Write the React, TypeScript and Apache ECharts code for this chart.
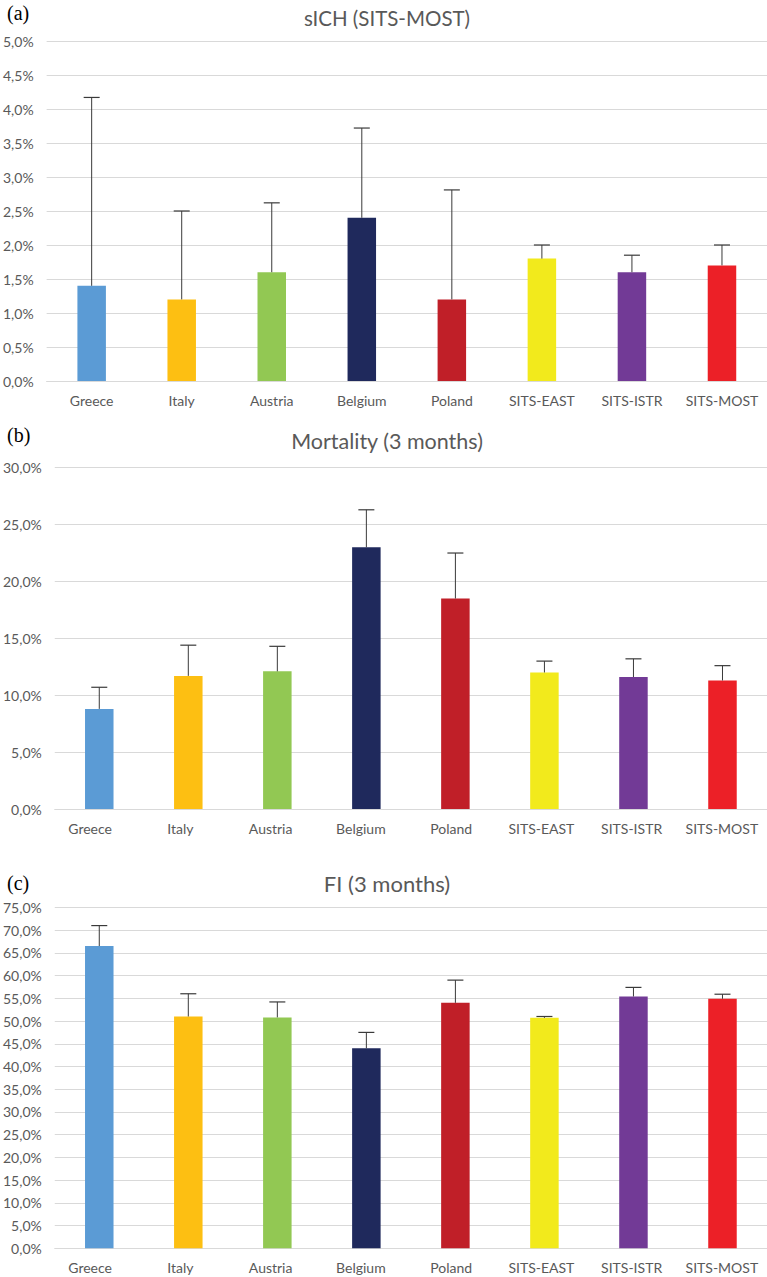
import React, { useEffect, useRef } from "react";
import * as echarts from "echarts";

// ---------- data ----------
const categories = ["Greece", "Italy", "Austria", "Belgium", "Poland", "SITS-EAST", "SITS-ISTR", "SITS-MOST"];
const barColors = ["#5B9BD5", "#FDBF12", "#92C853", "#1F295C", "#C01F28", "#F2EA1C", "#723A96", "#EC2027"];

const panelLetters = ["(a)", "(b)", "(c)"];
const panelTitles = ["sICH (SITS-MOST)", "Mortality (3 months)", "FI (3 months)"];

const sichValues = [1.4, 1.2, 1.6, 2.4, 1.2, 1.8, 1.6, 1.7];
const sichUpper = [4.17, 2.5, 2.62, 3.72, 2.81, 2.0, 1.85, 2.0];

const mortValues = [8.8, 11.7, 12.1, 23.0, 18.5, 12.0, 11.6, 11.3];
const mortUpper = [10.7, 14.4, 14.3, 26.3, 22.5, 13.0, 13.2, 12.6];

const fiValues = [66.5, 51.0, 50.8, 44.0, 54.0, 50.7, 55.4, 54.9];
const fiUpper = [71.0, 56.0, 54.2, 47.5, 59.0, 51.0, 57.4, 55.9];

const axisMax = [5, 30, 75];
const axisInterval = [0.5, 5, 5];

// ---------- styles / layout ----------
const FONT = "Lato, 'Open Sans', sans-serif";
const TEXT = "#595959";
const GRID_LINE = "#D9D9D9";
const ERR = "#3A3A3A";

const layout = [
  { top: 41, height: 340, left: 45, titleY: 18, letterY: 14, titleSize: 20.5 },
  { top: 467.7, height: 341.3, left: 53, titleY: 441, letterY: 436, titleSize: 21.5 },
  { top: 907.4, height: 340.9, left: 53, titleY: 883.5, letterY: 884, titleSize: 22 },
];
const LABEL_LEFT = 45;

const fmt = (v: number) => v.toFixed(1).replace(".", ",") + "%";

function buildOption() {
  const valuesArr = [sichValues, mortValues, fiValues];
  const upperArr = [sichUpper, mortUpper, fiUpper];
  const grid: any[] = [];
  const xAxis: any[] = [];
  const yAxis: any[] = [];
  const series: any[] = [];
  const graphic: any[] = [];

  layout.forEach((L, p) => {
    grid.push({ left: L.left, right: 0, top: L.top, height: L.height, containLabel: false });
    const showLabels = L.left === LABEL_LEFT;
    xAxis.push({
      type: "category",
      gridIndex: p,
      data: categories,
      axisLine: { show: true, lineStyle: { color: GRID_LINE, width: 1 } },
      axisTick: { show: false },
      axisLabel: { show: showLabels, color: TEXT, fontFamily: FONT, fontSize: 14, margin: 12, interval: 0 },
    });
    yAxis.push({
      type: "value",
      gridIndex: p,
      min: 0,
      max: axisMax[p],
      interval: axisInterval[p],
      axisLine: { show: false },
      axisTick: { show: false },
      splitLine: { lineStyle: { color: GRID_LINE, width: 1 } },
      axisLabel: { color: TEXT, fontFamily: FONT, fontSize: 14, margin: 13, formatter: fmt },
    });
    series.push({
      type: "bar",
      xAxisIndex: p,
      yAxisIndex: p,
      barWidth: 28.5,
      data: valuesArr[p].map((v, i) => ({ value: v, itemStyle: { color: barColors[i] } })),
      z: 2,
    });
    series.push({
      type: "custom",
      xAxisIndex: p,
      yAxisIndex: p,
      z: 3,
      data: valuesArr[p].map((v, i) => [i, v, upperArr[p][i]]),
      encode: { x: 0, y: [1, 2] },
      renderItem: (params: any, api: any) => {
        const i = api.value(0);
        const a = api.coord([i, api.value(1)]);
        const b = api.coord([i, api.value(2)]);
        const half = 8;
        return {
          type: "group",
          children: [
            { type: "line", shape: { x1: a[0], y1: a[1], x2: b[0], y2: b[1] }, style: { stroke: ERR, lineWidth: 1 } },
            { type: "line", shape: { x1: b[0] - half, y1: b[1], x2: b[0] + half, y2: b[1] }, style: { stroke: ERR, lineWidth: 1.2 } },
          ],
        };
      },
    });
    graphic.push({
      type: "text",
      left: 7,
      top: L.letterY - 11,
      style: { text: panelLetters[p], font: "20px 'Liberation Serif', 'Times New Roman', serif", fill: "#000" },
    });
    graphic.push({
      type: "text",
      x: 387,
      y: L.titleY,
      style: {
        text: panelTitles[p],
        fontFamily: FONT,
        fontSize: L.titleSize,
        fill: TEXT,
        textAlign: "center",
        textVerticalAlign: "middle",
      },
    });
  });

  // label-only grids for panels (b) and (c), whose category labels sit on the (a) spacing
  [1, 2].forEach((p) => {
    const L = layout[p];
    const gi = grid.length;
    grid.push({ left: LABEL_LEFT, right: 0, top: L.top, height: L.height });
    xAxis.push({
      type: "category",
      gridIndex: gi,
      data: categories,
      axisLine: { show: false },
      axisTick: { show: false },
      splitLine: { show: false },
      axisLabel: { color: TEXT, fontFamily: FONT, fontSize: 14, margin: 12, interval: 0 },
    });
    yAxis.push({ type: "value", gridIndex: gi, show: false, min: 0, max: 1 });
  });

  return { animation: false, backgroundColor: "#fff", grid, xAxis, yAxis, series, graphic };
}

export default function App() {
  const ref = useRef<HTMLDivElement>(null);
  useEffect(() => {
    const chart = echarts.init(ref.current!, null, { renderer: "svg" });
    chart.setOption(buildOption() as any);
    return () => chart.dispose();
  }, []);
  return (
    <div
      ref={ref}
      style={{ position: "absolute", left: 0, top: 0, width: 767, height: 1277, background: "#fff" }}
    />
  );
}
